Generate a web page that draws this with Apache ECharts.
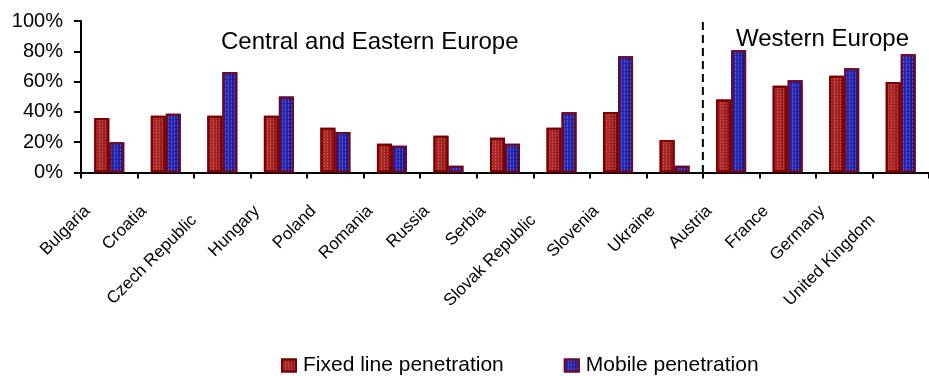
<!DOCTYPE html>
<html>
<head>
<meta charset="utf-8">
<script src="https://cdn.jsdelivr.net/npm/echarts@6/dist/echarts.min.js"></script>
<style>
  html, body { margin: 0; padding: 0; background: #ffffff; }
  #chart { width: 929px; height: 376px; }
</style>
</head>
<body>
<div id="chart"></div>
<script>
// Telecom penetration by country (share of population)
const countries = [
  'Bulgaria', 'Croatia', 'Czech Republic', 'Hungary', 'Poland', 'Romania',
  'Russia', 'Serbia', 'Slovak Republic', 'Slovenia', 'Ukraine',
  'Austria', 'France', 'Germany', 'United Kingdom'
];
const fixedLinePenetration = [36, 37.4, 37.4, 37.4, 29.5, 19, 24.2, 22.9, 29.5, 39.9, 21.4, 48.2, 57.2, 63.8, 59.8];
const mobilePenetration    = [20, 38.7, 66.4, 50.2, 26.7, 17.7, 4.5, 19, 39.7, 76.7, 4.5, 80.7, 60.9, 68.8, 78.1];
const yTicks = [0, 20, 40, 60, 80, 100];
const regionNames = ['Central and Eastern Europe', 'Western Europe'];
const regionSplitAfter = 'Ukraine';
const seriesNames = ['Fixed line penetration', 'Mobile penetration'];
const longNames = ['Czech Republic', 'Slovak Republic', 'United Kingdom'];

const FONT = '"Liberation Sans", Arial, sans-serif';

function barFill(light, mid, dark) {
  return new echarts.graphic.LinearGradient(0, 0, 1, 0, [
    { offset: 0, color: mid },
    { offset: 0.35, color: light },
    { offset: 0.8, color: mid },
    { offset: 1, color: dark }
  ]);
}

const chart = echarts.init(document.getElementById('chart'), null, { renderer: 'canvas' });

chart.setOption({
  animation: false,
  backgroundColor: '#ffffff',
  grid: { left: 81, right: -9, top: 21, bottom: 203.5, containLabel: false },
  legend: {
    data: seriesNames,
    left: 276,
    top: 350,
    icon: 'rect',
    itemWidth: 14,
    itemHeight: 12,
    itemGap: 60,
    textStyle: { fontFamily: FONT, fontSize: 21, color: '#000', padding: [0, 0, 0, 2] }
  },
  xAxis: {
    type: 'category',
    data: countries,
    axisLine: { lineStyle: { color: '#000', width: 2 } },
    axisTick: { show: true, length: 6, alignWithLabel: false, lineStyle: { color: '#000', width: 2 } },
    axisLabel: {
      interval: 0,
      rotate: 45,
      margin: 14,
      padding: [0, 31, 0, 0],
      fontFamily: FONT,
      fontSize: 17,
      color: '#000',
      formatter: function (name) {
        return longNames.indexOf(name) >= 0 ? '{lng|' + name + '}' : name;
      },
      rich: {
        lng: { fontFamily: FONT, fontSize: 17, color: '#000', padding: [4, 11, 0, 0] }
      }
    },
    splitLine: { show: false }
  },
  yAxis: {
    type: 'value',
    min: yTicks[0],
    max: yTicks[yTicks.length - 1],
    interval: yTicks[1] - yTicks[0],
    axisLine: { show: true, lineStyle: { color: '#000', width: 2 } },
    axisTick: { show: true, length: 7, lineStyle: { color: '#000', width: 2 } },
    axisLabel: {
      margin: 18,
      fontFamily: FONT,
      fontSize: 20,
      color: '#000',
      formatter: '{value}%'
    },
    splitLine: { show: false }
  },
  series: [
    {
      name: seriesNames[0],
      type: 'bar',
      data: fixedLinePenetration,
      barWidth: 15,
      barGap: '0%',
      itemStyle: {
        color: barFill('#ad2a2a', '#951818', '#6e0808'),
        borderColor: '#7a0000',
        borderWidth: 2,
        decal: {
          symbol: 'rect',
          symbolSize: 1,
          dashArrayX: [1, 2],
          dashArrayY: [2, 1],
          color: 'rgba(255,170,170,0.3)'
        }
      }
    },
    {
      name: seriesNames[1],
      type: 'bar',
      data: mobilePenetration,
      barWidth: 15,
      barGap: '0%',
      itemStyle: {
        color: barFill('#2a2ab4', '#1a1a96', '#0c0c66'),
        borderColor: '#6a0a2a',
        borderWidth: 2,
        decal: {
          symbol: 'rect',
          symbolSize: 1,
          dashArrayX: [1, 2],
          dashArrayY: [3, 1],
          color: 'rgba(150,150,255,0.4)'
        }
      }
    }
  ]
});

// Region divider and region captions
const xLeft = chart.convertToPixel({ xAxisIndex: 0 }, regionSplitAfter);
const xRight = chart.convertToPixel({ xAxisIndex: 0 }, countries[countries.indexOf(regionSplitAfter) + 1]);
const xDiv = (xLeft + xRight) / 2;
const yTop = chart.convertToPixel({ yAxisIndex: 0 }, yTicks[yTicks.length - 1]) + 1;
const yBase = chart.convertToPixel({ yAxisIndex: 0 }, yTicks[0]);

chart.setOption({
  graphic: [
    {
      type: 'line',
      shape: { x1: xDiv, y1: yTop, x2: xDiv, y2: yBase },
      style: { stroke: '#000', lineWidth: 2, lineDash: [8, 5] },
      z: 5
    },
    {
      type: 'text',
      x: 221,
      y: 42,
      style: { text: regionNames[0], fontFamily: FONT, fontSize: 24, fill: '#000', align: 'left', verticalAlign: 'middle' },
      z: 6
    },
    {
      type: 'text',
      x: 736,
      y: 39,
      style: { text: regionNames[1], fontFamily: FONT, fontSize: 24, fill: '#000', align: 'left', verticalAlign: 'middle' },
      z: 6
    }
  ]
});
</script>
</body>
</html>
